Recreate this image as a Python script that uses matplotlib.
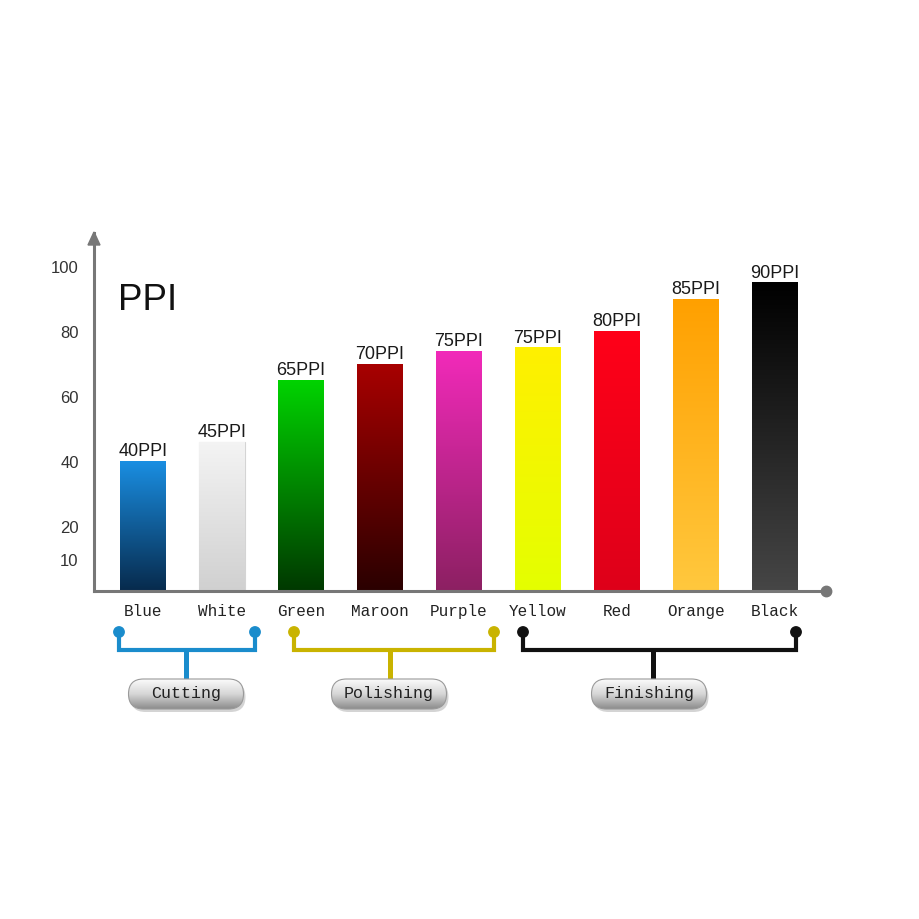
import numpy as np
import matplotlib.pyplot as plt
from matplotlib.colors import to_rgb
from matplotlib.patches import FancyBboxPatch, Circle, Polygon

# bar data
categories = ["Blue", "White", "Green", "Maroon", "Purple", "Yellow", "Red", "Orange", "Black"]
values = [40, 46, 65, 70, 74, 75, 80, 90, 95]
valueLabels = ["40PPI", "45PPI", "65PPI", "70PPI", "75PPI", "75PPI", "80PPI", "85PPI", "90PPI"]
topColors = ["#1a8fe3", "#f4f4f4", "#00d400", "#a80000", "#f22aba",
             "#fff000", "#ff0018", "#ffa000", "#000000"]
bottomColors = ["#072a4c", "#d0d0d0", "#003800", "#2a0000", "#8c2062",
                "#e4ff00", "#de001a", "#ffc83e", "#464646"]
yTicks = [10, 20, 40, 60, 80, 100]

# process groups
groups = ["Cutting", "Polishing", "Finishing"]
groupColors = ["#1a8ccc", "#c9b300", "#111111"]

# bracket layout in pixels: left dot, right dot, stem x, pill centre
bracketLayout = [(119, 255, 186, 186), (294, 494, 390, 389), (523, 796, 653, 649)]

W = 920
fig = plt.figure(figsize=(9.2, 9.2), dpi=100)
fig.patch.set_facecolor("white")

# main axes, y=0 at pixel 592, 3.25 px per unit
base = 592
ppu = 3.25
ymax = 110
ax = fig.add_axes([94 / W, (W - base) / W, (826 - 94) / W, ymax * ppu / W])
ax.set_xlim(-0.62, 8.65)
ax.set_ylim(0, ymax)
ax.set_facecolor("none")

x = np.arange(len(categories))
bars = ax.bar(x, values, width=0.58, color="none", edgecolor="none", zorder=2)

# gradient fill for each bar
for b, top, bot in zip(bars, topColors, bottomColors):
    x0 = b.get_x()
    x1 = x0 + b.get_width()
    h = b.get_height()
    t = np.linspace(0, 1, 256)[:, None]
    grad = (1 - t) * np.array(to_rgb(top)) + t * np.array(to_rgb(bot))
    grad = grad[:, None, :].repeat(2, axis=1)
    im = ax.imshow(grad, extent=(x0, x1, 0, h), aspect="auto", origin="upper", zorder=2)
    im.set_clip_path(b)
bars[1].set_edgecolor("#d4d4d4")
bars[1].set_linewidth(0.8)

for xi, v, lab in zip(x, values, valueLabels):
    ax.annotate(lab, (xi, v), xytext=(0, 1.2), textcoords="offset points",
                ha="center", va="bottom", fontsize=13, color="#1a1a1a",
                family="Liberation Sans")

for s in ["top", "right"]:
    ax.spines[s].set_visible(False)
for s in ["left", "bottom"]:
    ax.spines[s].set_color("#777777")
    ax.spines[s].set_linewidth(2.2)
    ax.spines[s].set_zorder(3)

ax.set_yticks(yTicks)
ax.set_yticklabels([str(v) for v in yTicks], fontsize=12, color="#333333",
                   family="Liberation Sans")
ax.tick_params(axis="y", length=0, pad=11)
ax.set_xticks(x)
ax.set_xticklabels(categories, fontsize=11.5, color="#222222", family="Liberation Mono")
ax.tick_params(axis="x", length=0, pad=17)
for lab in ax.get_xticklabels():
    lab.set_verticalalignment("baseline")

# end dot of x axis
ax.plot([1], [0], marker="o", markersize=7.5, color="#777777",
        transform=ax.transAxes, clip_on=False, zorder=4)

# overlay in pixel coordinates for decorations
ov = fig.add_axes([0, 0, 1, 1])
ov.set_xlim(0, W)
ov.set_ylim(0, W)
ov.axis("off")
ov.patch.set_alpha(0)


def py(y):
    return W - y


# arrow head of y axis
ov.add_patch(Polygon([(88, py(246)), (100, py(246)), (94, py(233))],
                     closed=True, color="#777777"))

ov.text(118, py(301), "PPI", fontsize=26.5, family="Liberation Sans",
        color="#111111", ha="left", va="center")

for name, col, (xl, xr, xs, xc) in zip(groups, groupColors, bracketLayout):
    lw = 3
    ov.plot([xl, xl, xr, xr], [py(633), py(651), py(651), py(633)],
            color=col, lw=lw, solid_joinstyle="miter", solid_capstyle="butt")
    ov.plot([xs, xs], [py(651), py(680)], color=col, lw=lw + 0.6, solid_capstyle="butt")
    for xd in (xl, xr):
        ov.add_patch(Circle((xd, py(633)), 5.2, color=col, zorder=3))

    # pill button
    pw, ph = 115, 30
    px0 = xc - pw / 2
    py0 = py(695) - ph / 2
    shadow = FancyBboxPatch((px0 + 2, py0 - 3), pw, ph,
                            boxstyle="round,pad=0,rounding_size=15",
                            facecolor="#b8b8b8", edgecolor="none", alpha=0.6, zorder=2)
    ov.add_patch(shadow)
    pill = FancyBboxPatch((px0, py0), pw, ph,
                          boxstyle="round,pad=0,rounding_size=15",
                          facecolor="none", edgecolor="#9a9a9a", lw=0.8, zorder=4)
    ov.add_patch(pill)
    t = np.linspace(0, 1, 128)[:, None]
    light = np.array(to_rgb("#fbfbfb"))
    mid = np.array(to_rgb("#d6d6d6"))
    dark = np.array(to_rgb("#8c8c8c"))
    grad = np.where(t < 0.5, (1 - 2 * t) * light + 2 * t * mid,
                    (2 - 2 * t) * mid + (2 * t - 1) * dark)
    grad = grad[:, None, :].repeat(2, axis=1)
    im = ov.imshow(grad, extent=(px0, px0 + pw, py0, py0 + ph), aspect="auto",
                   origin="upper", zorder=3)
    im.set_clip_path(pill)
    ov.text(xc, py(694), name, fontsize=12, family="Liberation Mono",
            color="#222222", ha="center", va="center", zorder=5)

ov.set_xlim(0, W)
ov.set_ylim(0, W)

fig.savefig("out.png", dpi=100, facecolor="white")
